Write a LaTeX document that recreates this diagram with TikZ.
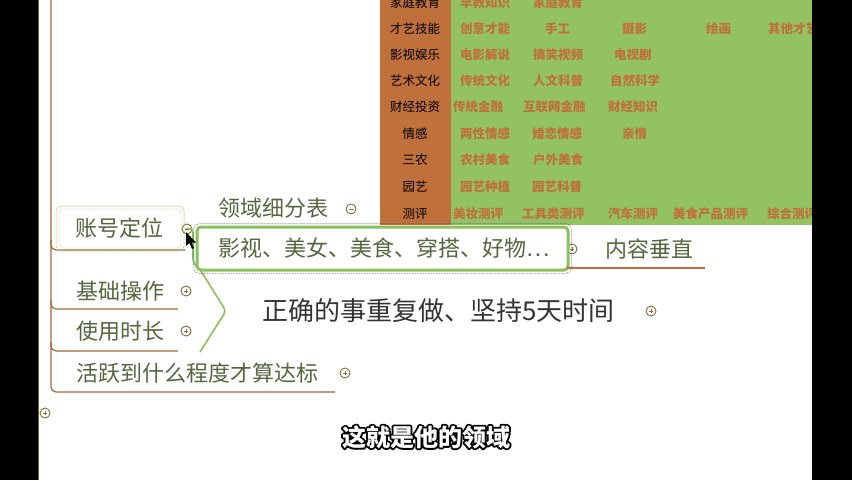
\documentclass[tikz,border=0pt]{standalone}
\usepackage{fontspec}
\newfontfamily\cjk{Noto Sans CJK SC}
\definecolor{torange}{HTML}{C0703A}
\definecolor{tgreen}{HTML}{92C262}
\definecolor{mgreen}{HTML}{8CC05C}
\definecolor{brownl}{HTML}{9C6B3A}
\definecolor{ntext}{HTML}{56663F}
\definecolor{icon}{HTML}{8A6A3A}
\tikzset{
  rowlab/.style={font=\cjk\fontsize{12.5}{13}\selectfont, text=black, inner sep=0pt},
  cell/.style={font=\cjk\bfseries\fontsize{12.5}{13}\selectfont, text=torange, anchor=west, inner sep=0pt},
  mtext/.style={font=\cjk\fontsize{22}{24}\selectfont, text=ntext, anchor=west, inner sep=0pt},
  btext/.style={font=\cjk\fontsize{26}{28}\selectfont, text=black!80, anchor=west, inner sep=0pt},
  tree/.style={draw=brownl, line width=1.2pt},
  conn/.style={draw=mgreen, line width=1.6pt},
  iconc/.style={draw=icon, line width=0.9pt},
  subt/.style={font=\cjk\bfseries\fontsize{24}{26}\selectfont, inner sep=0pt},
  plusc/.pic={\draw[iconc] (0,0) circle (5pt); \draw[iconc] (-2pt,0)--(2pt,0) (0,-2pt)--(0,2pt);},
  minusc/.pic={\draw[iconc] (0,0) circle (5pt); \draw[iconc] (-2.5pt,0)--(2.5pt,0);}
}
\begin{document}
\begin{tikzpicture}[x=1pt,y=-1pt]
\useasboundingbox (0,0) rectangle (852,480);
\clip (0,0) rectangle (852,480);
\fill[white] (0,0) rectangle (852,480);

% table
\fill[torange] (380,-5) rectangle (451,225);
\fill[tgreen] (451,-5) rectangle (812,225);
\node[rowlab] (r1) at (415,2.5) {家庭教育};
\node[rowlab] (r2) at (415,29) {才艺技能};
\node[rowlab] (r3) at (415,55) {影视娱乐};
\node[rowlab] (r4) at (415,81) {艺术文化};
\node[rowlab] (r5) at (415,107) {财经投资};
\node[rowlab] (r6) at (415,134) {情感};
\node[rowlab] (r7) at (415,160) {三农};
\node[rowlab] (r8) at (415,187) {园艺};
\node[rowlab] (r9) at (415,214) {测评};
\node[cell] (c11) at (460,2.5) {早教知识};
\node[cell] (c12) at (533,2.5) {家庭教育};
\node[cell] (c21) at (460,29) {创意才能};
\node[cell] (c22) at (545,29) {手工};
\node[cell] (c23) at (622,29) {摄影};
\node[cell] (c24) at (706,29) {绘画};
\node[cell] (c25) at (768,29) {其他才艺};
\node[cell] (c31) at (460,55) {电影解说};
\node[cell] (c32) at (533,55) {搞笑视频};
\node[cell] (c33) at (614,55) {电视剧};
\node[cell] (c41) at (460,81) {传统文化};
\node[cell] (c42) at (533,81) {人文科普};
\node[cell] (c43) at (610,81) {自然科学};
\node[cell] (c51) at (453,107) {传统金融};
\node[cell] (c52) at (523,107) {互联网金融};
\node[cell] (c53) at (608,107) {财经知识};
\node[cell] (c61) at (460,134) {两性情感};
\node[cell] (c62) at (532,134) {婚恋情感};
\node[cell] (c63) at (622,134) {亲情};
\node[cell] (c71) at (460,160) {农村美食};
\node[cell] (c72) at (533,160) {户外美食};
\node[cell] (c81) at (460,187) {园艺种植};
\node[cell] (c82) at (532,187) {园艺科普};
\node[cell] (c91) at (453,214) {美妆测评};
\node[cell] (c92) at (522,214) {工具类测评};
\node[cell] (c93) at (608,214) {汽车测评};
\node[cell] (c94) at (673,214) {美食产品测评};
\node[cell] (c95) at (767,214) {综合测评};

% tree lines
\coordinate (vtop) at (51,-5);
\coordinate (vbot) at (51,392);
\coordinate (hend) at (335,392);
\draw[tree, rounded corners=5pt] (vtop) -- (vbot) -- (hend);
\coordinate (u1a) at (51,240); \coordinate (u1b) at (185,250);
\coordinate (u2a) at (51,300); \coordinate (u2b) at (178,309);
\coordinate (u3a) at (51,342); \coordinate (u3b) at (178,351);
\draw[tree, rounded corners=5pt] (u1a) |- (u1b);
\draw[tree, rounded corners=5pt] (u2a) |- (u2b);
\draw[tree, rounded corners=5pt] (u3a) |- (u3b);

% selected node frame
\node[draw=mgreen!70, densely dotted, line width=1pt, rounded corners=5pt, minimum width=128pt, minimum height=45pt, inner sep=0pt] (accbox) at (120,228.5) {};
\node[draw=mgreen!50, densely dotted, line width=0.8pt, rounded corners=4pt, minimum width=122pt, minimum height=39pt, inner sep=0pt] (accbox2) at (120,228.5) {};
\node[mtext] (acct) at (75,228) {账号定位};
\pic at (187,229) {minusc};
\coordinate (acci) at (192,229);

% green connector
\coordinate (g1) at (193,229);
\coordinate (g2) at (193,263);
\coordinate (g3) at (201,271);
\coordinate (g4) at (226,311);
\coordinate (g5) at (200,352);
\draw[conn, rounded corners=4pt] (acci) -- (g1) -- (g2) -- (g3) -- (g4) -- (g5);

% icon partly hidden by box
\pic at (572,249) {plusc};
% content box
\node[draw=mgreen, line width=3pt, fill=white, rounded corners=4pt, minimum width=371pt, minimum height=43pt, inner sep=0pt] (bigbox) at (382.5,248.5) {};
\draw[black!70, densely dotted, line width=0.6pt, rounded corners=5pt] ([shift={(-1.8pt,1.8pt)}]bigbox.north west) rectangle ([shift={(1.8pt,-1.8pt)}]bigbox.south east);
\node[mtext] (items) at (218,248) {影视、美女、美食、穿搭、好物…};

\node[mtext] (neirong) at (605,249) {内容垂直};
\coordinate (n1) at (567,268); \coordinate (n2) at (705,268);
\draw[draw=torange, line width=1.2pt] (n1) -- (n2);

\node[mtext] (lingyu) at (218,208) {领域细分表};
\pic at (351,209) {minusc};

\node[btext] (zhengque) at (262,311) {正确的事重复做、坚持5天时间};
\pic at (651,311) {plusc};

\node[mtext] (jichu) at (76,291) {基础操作};
\pic at (186,291) {plusc};
\node[mtext] (shiyong) at (76,331) {使用时长};
\pic at (186,331) {plusc};
\node[mtext] (huoyue) at (76,373) {活跃到什么程度才算达标};
\pic at (345,373) {plusc};
\pic at (45,413) {plusc};

% cursor
\fill[black] (186,232) -- (186,246) -- (189.5,243) -- (192,249) -- (194,248) -- (191.5,242.5) -- (196,242.5) -- cycle;

% subtitle: outline pass (stroke only), then white fill
\node[subt, text=black] (subo) at (426,437) {\special{pdf:literal direct 1 Tr 3.6 w 1 j 0 0 0 RG}这就是他的领域\special{pdf:literal direct 0 Tr 1 w 0 j}};
\node[subt, text=white] (sub) at (426,437) {这就是他的领域};

% black side bars
\fill[black] (0,0) rectangle (38,480);
\fill[black] (812,0) rectangle (852,480);
\draw[olive!70!black, line width=0.8pt] (38.6,0) -- (38.6,480);
\end{tikzpicture}
\end{document}
